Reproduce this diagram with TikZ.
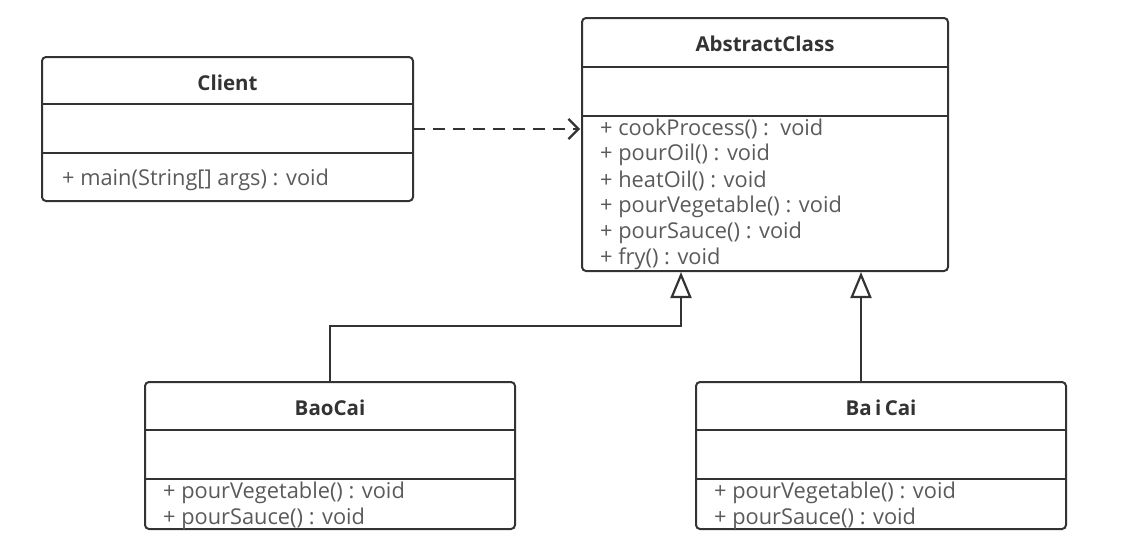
\documentclass[tikz,border=0pt]{standalone}
\usepackage{fontspec}
\setmainfont{Open Sans}
\usetikzlibrary{arrows.meta}
\definecolor{boxline}{HTML}{333333}
\definecolor{txt}{HTML}{5A5A5A}
\definecolor{ttl}{HTML}{333333}
\tikzset{
  classbox/.style={draw=boxline, line width=2pt, rounded corners=4pt},
  divider/.style={draw=boxline, line width=2pt},
  ttltext/.style={font=\fontsize{20.5}{24}\selectfont\bfseries, text=ttl, inner sep=0pt},
  mtext/.style={font=\fontsize{21.8}{24}\selectfont, text=txt, inner sep=0pt, anchor=west},
  dep/.style={draw=boxline, line width=2.5pt, dash pattern=on 12pt off 8pt, -{Straight Barb[length=10pt,width=20pt,line width=2.2pt]}},
  inh/.style={draw=boxline, line width=2pt, -{Triangle[open, length=26pt, width=21pt, line width=2.2pt, fill=white]}},
}
\begin{document}
\begin{tikzpicture}[x=1pt,y=-1pt]
\useasboundingbox (0,0) rectangle (1139,550);
% Client
\draw[classbox] (42,57) rectangle (413,201);
\draw[divider] (42,104) -- (413,104);
\draw[divider] (42,153) -- (413,153);
\node[ttltext] (clientT) at (227.5,83) {Client};
\node[mtext] (clientM) at (62,180) {+ main(String[] args) : void};
\coordinate (clientR) at (413,129);
% AbstractClass
\draw[classbox] (582,18) rectangle (948,271);
\draw[divider] (582,67) -- (948,67);
\draw[divider] (582,116) -- (948,116);
\node[ttltext] (absT) at (765,44) {AbstractClass};
\node[mtext] (a1) at (600,129) {+ cookProcess() :\ \ void};
\node[mtext] (a2) at (600,155) {+ pourOil() : void};
\node[mtext] (a3) at (600,181) {+ heatOil() : void};
\node[mtext] (a4) at (600,207) {+ pourVegetable() : void};
\node[mtext] (a5) at (600,233) {+ pourSauce() : void};
\node[mtext] (a6) at (600,259) {+ fry() : void};
\coordinate (absL) at (580,129);
\coordinate (absB1) at (681,272);
\coordinate (absB2) at (861,272);
% BaoCai
\draw[classbox] (145,382) rectangle (515,529);
\draw[divider] (145,430) -- (515,430);
\draw[divider] (145,479) -- (515,479);
\node[ttltext] (baoT) at (330,408) {BaoCai};
\node[mtext] (b1) at (163,493) {+ pourVegetable() : void};
\node[mtext] (b2) at (163,519) {+ pourSauce() : void};
\coordinate (baoTop) at (330,382);
% BaiCai
\draw[classbox] (696,382) rectangle (1066,529);
\draw[divider] (696,430) -- (1066,430);
\draw[divider] (696,479) -- (1066,479);
\node[ttltext] (baiT) at (881,408) {Ba\,i\,Cai};
\node[mtext] (c1) at (714,493) {+ pourVegetable() : void};
\node[mtext] (c2) at (714,519) {+ pourSauce() : void};
\coordinate (baiTop) at (861,382);
% connectors
\draw[dep] (clientR) -- (absL);
\draw[inh] (baoTop) -- (330,326) -- (681,326) -- (absB1);
\draw[inh] (baiTop) -- (absB2);
\end{tikzpicture}
\end{document}
